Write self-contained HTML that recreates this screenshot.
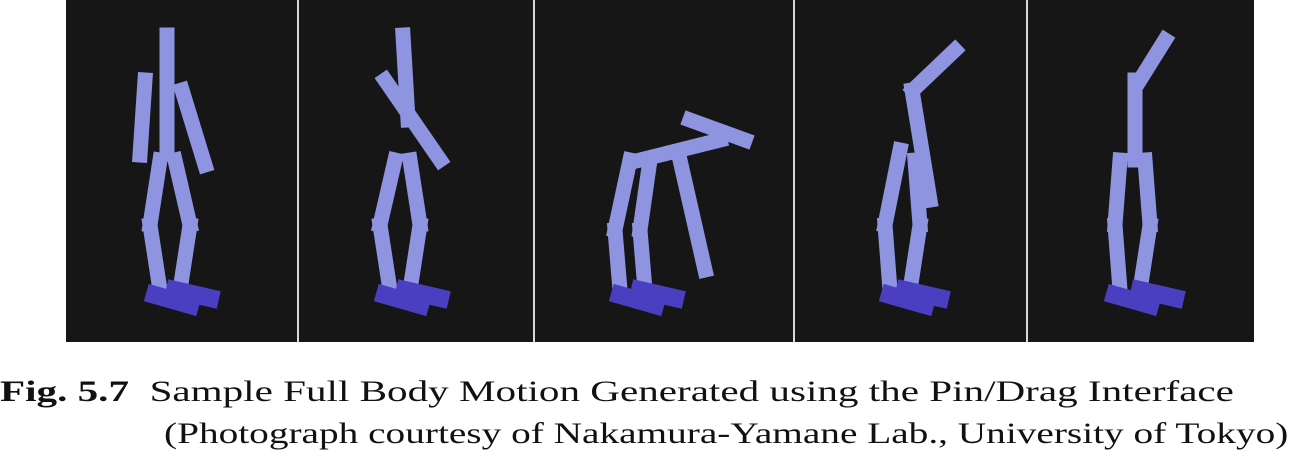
<!DOCTYPE html>
<html><head><meta charset="utf-8"><style>
body{margin:0;width:1296px;height:461px;background:#fff;overflow:hidden;position:relative;font-family:"Liberation Serif",serif}
.cap{position:absolute;font-size:30px;color:#111;white-space:nowrap;transform-origin:left top}
</style></head><body>
<svg width="1296" height="345" style="position:absolute;left:0;top:0">
<rect x="66" y="0" width="1188" height="342" fill="#161616"/>
<g stroke="#d8d8d8" stroke-width="2">
<line x1="298" y1="0" x2="298" y2="342"/><line x1="534" y1="0" x2="534" y2="342"/>
<line x1="794" y1="0" x2="794" y2="342"/><line x1="1027" y1="0" x2="1027" y2="342"/>
</g>
<g id="figs" stroke="#8e94e0" stroke-width="15" stroke-linecap="square" fill="none"></g>
</svg>
<div class="cap" style="left:0;top:375px;transform:scaleX(1.37)"><b>Fig. 5.7</b>&nbsp; Sample Full Body Motion Generated using the Pin/Drag Interface</div>
<div class="cap" style="left:164px;top:417px;transform:scaleX(1.31)">(Photograph courtesy of Nakamura-Yamane Lab., University of Tokyo)</div>
<script>
const figures=[
 [[167,35,167,150],[145,80,140,155],[182,90,205,165],[160,160,150,225],[150,225,160,290],[175,160,190,225],[190,225,180,290],[155,295,190,305],[175,290,210,298]],
 [[403,35,408,120],[385,80,440,160],[395,160,380,225],[380,225,390,290],[410,160,420,225],[420,225,410,290],[385,295,420,305],[405,290,440,298]],
 [[640,160,720,140],[690,120,745,140],[630,160,615,230],[615,230,620,290],[650,160,640,230],[640,230,645,290],[680,160,705,270],[620,295,655,305],[640,290,675,298]],
 [[913,90,955,50],[912,90,930,200],[900,150,885,225],[885,225,890,290],[915,160,920,225],[920,225,910,290],[890,295,925,305],[905,290,940,298]],
 [[1140,80,1165,40],[1135,80,1135,160],[1120,160,1115,225],[1115,225,1120,290],[1145,160,1150,225],[1150,225,1140,290],[1115,295,1150,305],[1140,290,1175,298]]
];
const g=document.getElementById('figs');
figures.forEach((segs,i)=>segs.forEach(s=>{const l=document.createElementNS('http://www.w3.org/2000/svg','line');


l.setAttribute('x1',s[0]);l.setAttribute('y1',s[1]);l.setAttribute('x2',s[2]);l.setAttribute('y2',s[3]);
if(s[1]>=290){l.setAttribute('stroke','#4a3fc0');l.setAttribute('stroke-width','18');}
g.appendChild(l);}));
</script>
</body></html>
